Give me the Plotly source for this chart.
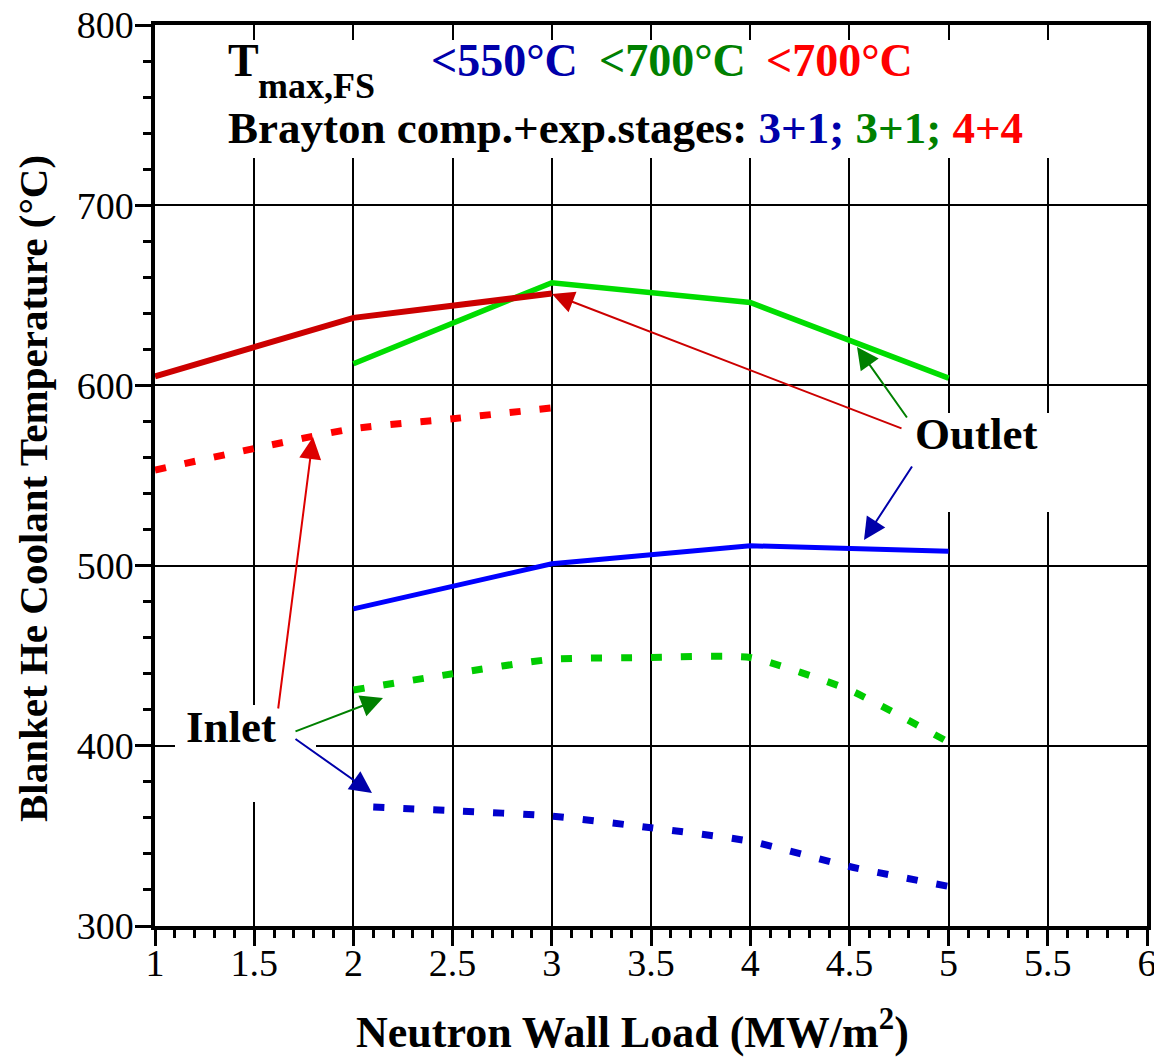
import plotly.graph_objects as go

# ---------------- data ----------------
red_out_x = [1, 2, 3]
red_out_y = [605, 637.5, 651]
red_in_x = [1, 1.5, 2, 2.5, 3]
red_in_y = [553, 565, 576, 581.5, 587.5]

green_out_x = [2, 3, 4, 5]
green_out_y = [612, 657, 646, 604]
green_in_x = [2, 2.5, 3, 3.5, 4, 4.5, 5]
green_in_y = [431, 440, 448, 449, 449, 431, 402]

blue_out_x = [2, 3, 4, 5]
blue_out_y = [476, 501, 511, 508]
blue_in_x = [2.1, 2.5, 3, 3.5, 4, 4.5, 5]
blue_in_y = [366, 364, 361, 354.5, 347, 333, 322]

x_range = [1, 6]
y_range = [300, 800]

FONT = "Liberation Serif"
DARKBLUE = "#0000aa"
GREEN = "#008000"
RED = "#ff0000"

# plot-area geometry (pixels) used to place labels
W, H = 1154, 1057
L, R, T, B = 155, 1147, 25, 926


def dx(px):
    return x_range[0] + (px - L) / (R - L) * (x_range[1] - x_range[0])


def dy(py):
    return y_range[1] - (py - T) / (B - T) * (y_range[1] - y_range[0])


def px_paper(px):
    return (px - L) / (R - L)


def py_paper(py):
    return (B - py) / (B - T)


fig = go.Figure()

DOT = "11px,19px"
fig.add_trace(go.Scatter(x=green_in_x, y=green_in_y, mode="lines", line=dict(color="#00cc00", width=7, dash=DOT, shape="spline", smoothing=0.5), showlegend=False))
fig.add_trace(go.Scatter(x=blue_in_x, y=blue_in_y, mode="lines", line=dict(color="#0000cc", width=7, dash=DOT, shape="spline", smoothing=0.6), showlegend=False))
fig.add_trace(go.Scatter(x=red_in_x, y=red_in_y, mode="lines", line=dict(color="#ff0000", width=7, dash=DOT, shape="spline", smoothing=0.6), showlegend=False))
fig.add_trace(go.Scatter(x=blue_out_x, y=blue_out_y, mode="lines", line=dict(color="#0000ff", width=5), showlegend=False))
fig.add_trace(go.Scatter(x=green_out_x, y=green_out_y, mode="lines", line=dict(color="#00dd00", width=5.5), showlegend=False))
fig.add_trace(go.Scatter(x=red_out_x, y=red_out_y, mode="lines", line=dict(color="#cc0000", width=6), showlegend=False))

# white label boxes that interrupt the grid
boxes = [
    (160, 40, 1140, 158),   # header
    (870, 413, 1085, 512),  # Outlet
    (175, 705, 316, 802),   # Inlet
]
for x0, y0, x1, y1 in boxes:
    fig.add_shape(type="rect", xref="x", yref="y", x0=dx(x0), x1=dx(x1), y0=dy(y1), y1=dy(y0),
                  fillcolor="white", line=dict(width=0), layer="between")

ann = []


def text(px, py, s, size, color="black", bold=True, xanchor="left"):
    ann.append(dict(x=dx(px), y=dy(py), xref="x", yref="y", text=f"<b>{s}</b>" if bold else s,
                    showarrow=False, xanchor=xanchor, yanchor="middle",
                    font=dict(family=FONT, size=size, color=color)))


text(226, 60, "T", 46)
text(256, 86, "max,FS", 36)
text(429, 60, "&lt;550°C", 46, DARKBLUE)
text(597, 60, "&lt;700°C", 46, GREEN)
text(764, 60, "&lt;700°C", 46, RED)
text(226, 128,
     "Brayton comp.+exp.stages: "
     f"<span style='color:{DARKBLUE}'>3+1;</span> "
     f"<span style='color:{GREEN}'>3+1;</span> "
     f"<span style='color:{RED}'>4+4</span>", 45)
text(976, 434, "Outlet", 45, xanchor="center")
text(231, 727, "Inlet", 45, xanchor="center")


def arrow(tail, tip, color):
    ann.append(dict(x=dx(tip[0]), y=dy(tip[1]), ax=dx(tail[0]), ay=dy(tail[1]),
                    xref="x", yref="y", axref="x", ayref="y", text="",
                    showarrow=True, arrowhead=2, arrowsize=2.2, arrowwidth=2,
                    arrowcolor=color, standoff=0, startstandoff=0))


arrow((908, 419), (857, 347), GREEN)
arrow((903, 429), (552, 294), "#cc0000")
arrow((913, 465), (864, 540), DARKBLUE)
arrow((294, 732), (383, 698), GREEN)
arrow((294, 738), (372, 793), DARKBLUE)
arrow((278, 710), (313, 437), "#dd0000")

# axis titles
ann.append(dict(x=px_paper(632), y=py_paper(1029), xref="paper", yref="paper",
                text="<b>Neutron Wall Load (MW/m<sup>2</sup>)</b>", showarrow=False,
                xanchor="center", yanchor="middle", font=dict(family=FONT, size=44, color="black")))
ann.append(dict(x=px_paper(33), y=py_paper(489), xref="paper", yref="paper",
                text="<b>Blanket He Coolant Temperature (°C)</b>", showarrow=False, textangle=-90,
                xanchor="center", yanchor="middle", font=dict(family=FONT, size=41, color="black")))

fig.update_layout(annotations=ann)

axis_common = dict(showline=True, linecolor="black", linewidth=3.5, mirror=True, automargin=False,
                   showgrid=True, gridcolor="black", gridwidth=2.2, zeroline=False,
                   ticks="outside", ticklen=16, tickwidth=2.5, tickcolor="black",
                   ticklabeloverflow="allow",
                   tickfont=dict(family=FONT, size=38, color="black"))

fig.update_xaxes(range=x_range, dtick=0.5, tick0=1, ticklabelstandoff=-15,
                 minor=dict(dtick=0.1, ticks="outside", ticklen=8, tickwidth=2.5, tickcolor="black", showgrid=False),
                 **axis_common)
fig.update_yaxes(range=y_range, dtick=100, tick0=300, ticklabelstandoff=-6,
                 minor=dict(dtick=20, ticks="outside", ticklen=8, tickwidth=2.5, tickcolor="black", showgrid=False),
                 **axis_common)

fig.update_layout(width=W, height=H, margin=dict(l=L, r=W - R, t=T, b=H - B, autoexpand=False),
                  plot_bgcolor="white", paper_bgcolor="white", showlegend=False)

fig.write_html("out.html", config={"displayModeBar": False},
               post_script="document.body.style.margin='0px';")
